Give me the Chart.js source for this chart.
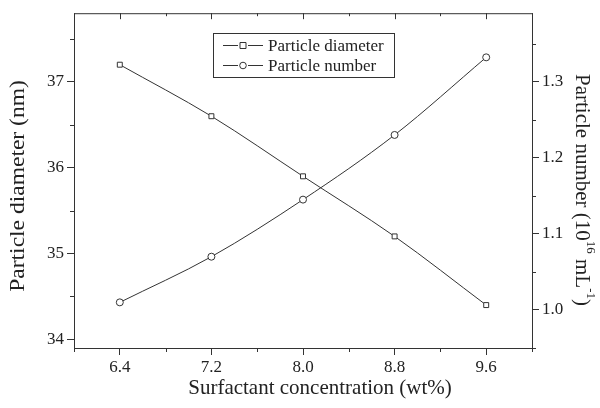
<!DOCTYPE html>
<html lang="en">
<head>
<meta charset="UTF-8">
<title>Particle diameter and number vs surfactant</title>
<script src="https://cdn.jsdelivr.net/npm/chart.js"></script>
<style>
    html, body { margin: 0; padding: 0; background: #fff; }
    #wrap { width: 600px; height: 408px; }
</style>
</head>
<body>
<div id="wrap"><canvas id="chart" width="600" height="408"></canvas></div>
<script>
// data
const concentration = [6.4, 7.2, 8.0, 8.8, 9.6];
const diameter = [37.2, 36.6, 35.9, 35.2, 34.4];
const number = [1.01, 1.07, 1.145, 1.23, 1.332];

const xTicks = [6.4, 7.2, 8.0, 8.8, 9.6];
const xMinor = [6.0, 6.8, 7.6, 8.4, 9.2, 10.0];
const leftTicks = [34, 35, 36, 37];
const leftMinor = [34.5, 35.5, 36.5, 37.5];
const rightTicks = [1.0, 1.1, 1.2, 1.3];
const rightMinor = [0.95, 1.05, 1.15, 1.25, 1.35];

const ink = '#333';
const textInk = '#222';
const serif = '"Liberation Serif", "DejaVu Serif", serif';

// draws a (possibly rotated) title made of pieces, for the superscripts
function drawTitle(ctx, cx, cy, angle, parts, stretch) {
    ctx.save();
    ctx.translate(cx, cy);
    ctx.rotate(angle);
    ctx.scale(stretch, 1);
    let total = 0;
    parts.forEach(p => { ctx.font = p[1]; total += ctx.measureText(p[0]).width; });
    let x = -total / 2;
    ctx.textBaseline = 'middle';
    ctx.fillStyle = textInk;
    parts.forEach(p => {
        ctx.font = p[1];
        ctx.fillText(p[0], x, p[2]);
        x += ctx.measureText(p[0]).width;
    });
    ctx.restore();
}

const frameAndMinor = {
    id: 'frameAndMinor',
    afterDraw(chart) {
        const ctx = chart.ctx;
        const a = chart.chartArea;
        const sx = chart.scales.x, sl = chart.scales.y, sr = chart.scales.y1;
        ctx.save();
        ctx.strokeStyle = ink;
        ctx.lineWidth = 1;
        ctx.strokeRect(a.left + 0.5, a.top + 0.5, a.right - a.left, a.bottom - a.top);
        ctx.beginPath();
        // minor ticks, outward
        xMinor.forEach(v => {
            const p = Math.round(sx.getPixelForValue(v)) + 0.5;
            ctx.moveTo(p, a.bottom); ctx.lineTo(p, a.bottom + 4);
        });
        leftMinor.forEach(v => {
            const p = Math.round(sl.getPixelForValue(v)) + 0.5;
            ctx.moveTo(a.left, p); ctx.lineTo(a.left - 4, p);
        });
        rightMinor.forEach(v => {
            const p = Math.round(sr.getPixelForValue(v)) + 0.5;
            ctx.moveTo(a.right, p); ctx.lineTo(a.right + 4, p);
        });
        // top edge ticks, inward
        xTicks.forEach(v => {
            const p = Math.round(sx.getPixelForValue(v)) + 0.5;
            ctx.moveTo(p, a.top); ctx.lineTo(p, a.top + 6);
        });
        xMinor.forEach(v => {
            const p = Math.round(sx.getPixelForValue(v)) + 0.5;
            ctx.moveTo(p, a.top); ctx.lineTo(p, a.top + 3);
        });
        ctx.stroke();

        const big = '21px ' + serif, small = '13px ' + serif;
        drawTitle(ctx, 320, 388, 0, [['Surfactant concentration (wt%)', big, 0]], 1);
        drawTitle(ctx, 18, 186, -Math.PI / 2, [['Particle diameter (nm)', big, 0]], 1.12);
        drawTitle(ctx, 582, 190, Math.PI / 2, [
            ['Particle number (10', big, 0],
            ['16', small, -8],
            [' mL', big, 0],
            ['-1', small, -8],
            [')', big, 0]
        ], 1.0);

        // legend box
        const bx = 213.5, by = 33.5, bw = 181, bh = 44;
        ctx.strokeStyle = ink;
        ctx.strokeRect(bx, by, bw, bh);
        const rows = [['Particle diameter', 'rect', 45], ['Particle number', 'circle', 65]];
        ctx.font = '17px ' + serif;
        ctx.textBaseline = 'middle';
        rows.forEach(r => {
            const y = r[2] + 0.5;
            ctx.beginPath();
            ctx.moveTo(223, y); ctx.lineTo(238, y);
            ctx.moveTo(248, y); ctx.lineTo(263, y);
            ctx.stroke();
            ctx.beginPath();
            if (r[1] === 'rect') ctx.rect(240, y - 3, 6, 6);
            else ctx.arc(243, y, 3.3, 0, Math.PI * 2);
            ctx.stroke();
            ctx.fillStyle = textInk;
            ctx.fillText(r[0], 268, y + 1);
        });
        ctx.restore();
    }
};

const ctx = document.getElementById('chart').getContext('2d');
new Chart(ctx, {
    type: 'line',
    data: {
        datasets: [{
            label: 'Particle diameter',
            data: concentration.map((c, i) => ({ x: c, y: diameter[i] })),
            yAxisID: 'y',
            borderColor: ink,
            borderWidth: 1,
            pointStyle: 'rect',
            pointRadius: 3.5,
            pointBackgroundColor: '#fff',
            pointBorderColor: ink,
            pointBorderWidth: 1,
            cubicInterpolationMode: 'monotone'
        }, {
            label: 'Particle number',
            data: concentration.map((c, i) => ({ x: c, y: number[i] })),
            yAxisID: 'y1',
            borderColor: ink,
            borderWidth: 1,
            pointStyle: 'circle',
            pointRadius: 3.5,
            pointBackgroundColor: '#fff',
            pointBorderColor: ink,
            pointBorderWidth: 1,
            cubicInterpolationMode: 'monotone'
        }]
    },
    options: {
        responsive: false,
        animation: false,
        layout: { padding: { top: 6, left: 0, right: 0, bottom: 0 } },
        plugins: {
            legend: { display: false },
            tooltip: { enabled: false }
        },
        scales: {
            x: {
                type: 'linear',
                min: 6.0,
                max: 10.0,
                afterBuildTicks: s => { s.ticks = xTicks.map(v => ({ value: v })); },
                afterFit: s => { s.height = 60; },
                grid: { display: true, drawOnChartArea: false, tickLength: 7, tickColor: ink },
                border: { display: false },
                ticks: {
                    color: textInk, padding: 2, maxRotation: 0,
                    font: { family: serif, size: 17 },
                    callback: v => v.toFixed(1)
                },
                title: { display: false }
            },
            y: {
                position: 'left',
                min: 33.9,
                max: 37.8,
                afterBuildTicks: s => { s.ticks = leftTicks.map(v => ({ value: v })); },
                afterFit: s => { s.width = 74; },
                grid: { display: true, drawOnChartArea: false, tickLength: 7, tickColor: ink },
                border: { display: false },
                ticks: {
                    color: textInk, padding: 3,
                    font: { family: serif, size: 17 }
                },
                title: { display: false }
            },
            y1: {
                position: 'right',
                min: 0.95,
                max: 1.39,
                afterBuildTicks: s => { s.ticks = rightTicks.map(v => ({ value: v })); },
                afterFit: s => { s.width = 68; },
                grid: { display: true, drawOnChartArea: false, tickLength: 7, tickColor: ink },
                border: { display: false },
                ticks: {
                    color: textInk, padding: 3,
                    font: { family: serif, size: 17 },
                    callback: v => v.toFixed(1)
                },
                title: { display: false }
            }
        }
    },
    plugins: [frameAndMinor]
});
</script>
</body>
</html>
